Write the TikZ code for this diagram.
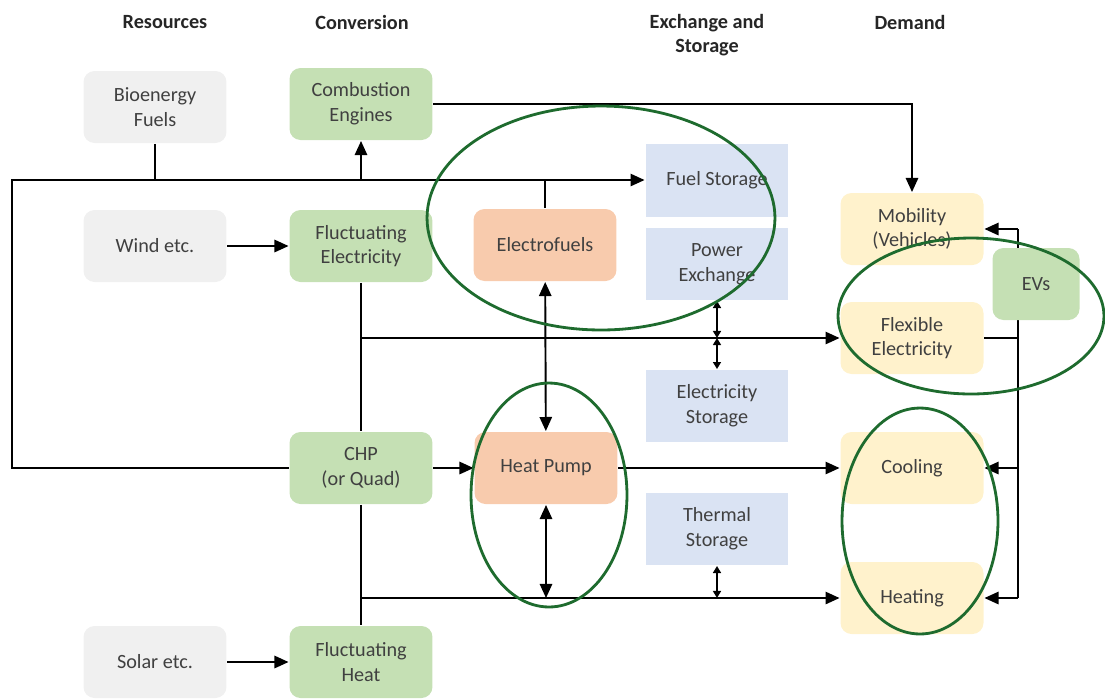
\documentclass[tikz,border=0pt]{standalone}
\usepackage{fontspec}
\setmainfont{Carlito}
\usepackage{tikz}
\usetikzlibrary{arrows.meta, positioning}
\usepackage{xcolor}

\definecolor{resgray}{HTML}{F0F0F0}
\definecolor{convgreen}{HTML}{C5E0B4}
\definecolor{fuelorange}{HTML}{F8CBAD}
\definecolor{storblue}{HTML}{DAE3F3}
\definecolor{demyellow}{HTML}{FFF2CC}
\definecolor{ringgreen}{HTML}{1E6B2E}
\definecolor{txtgray}{HTML}{404040}

\tikzset{
	box/.style={inner sep = 3pt, minimum width=2.86cm, minimum height=1.44cm, align=center, text=txtgray, rounded corners=0.22cm, font=\fontsize{11.5}{14}\selectfont},
	resbox/.style={box, fill=resgray},
	convbox/.style={box, fill=convgreen},
	fuelbox/.style={box, fill=fuelorange},
	storbox/.style={box, fill=storblue, sharp corners},
	demandbox/.style={box, fill=demyellow},
	head/.style={align=center, font=\fontsize{11.5}{14}\selectfont\bfseries, text=black!85},
	ring/.style={draw=ringgreen, line width=1.6pt},
	>={Triangle[length=8pt,width=7pt]},
	small/.style={>={Triangle[length=4pt,width=4.5pt]}}
}

\begin{document}
\begin{tikzpicture}[x=0.02cm, y=-0.02cm, line width=1.1pt]
		\useasboundingbox (0,0) rectangle (1105,698);
		\draw (165,22) node[head] (hres) {Resources}
		(362,22) node[head] (hconv) {Conversion}
		(707,35) node[head] (hexch) {Exchange and\\Storage}
		(910,22) node[head] (hdem) {Demand}
		(155,107) node[resbox] (bio) {Bioenergy\\Fuels}
		(155,246) node[resbox] (wind) {Wind etc.}
		(155,662) node[resbox] (solar) {Solar etc.}
		(361,104) node[convbox] (comb) {Combustion\\Engines}
		(361,246) node[convbox] (fel) {Fluctuating\\Electricity}
		(361,468) node[convbox] (chp) {CHP\\(or Quad)}
		(361,662) node[convbox] (fheat) {Fluctuating\\Heat}
		(545,245) node[fuelbox] (elf) {Electrofuels}
		(546,468) node[fuelbox] (hp) {Heat Pump}
		(717,180) node[storbox, minimum height=1.46cm] (fuel) {Fuel Storage}
		(717,264) node[storbox] (pex) {Power\\Exchange}
		(717,406) node[storbox] (est) {Electricity\\Storage}
		(717,529) node[storbox] (tst) {Thermal\\Storage}
		(912,229) node[demandbox] (mob) {Mobility\\(Vehicles)}
		(912,338) node[demandbox] (flex) {Flexible\\Electricity}
		(912,468) node[demandbox] (cool) {Cooling}
		(912,598) node[demandbox] (heat) {Heating};
		\coordinate (fl) at (12,180);
		\coordinate (bus) at (1018,338);
		
		\draw[->] (chp.west) -| (fl) -- (fuel.west);
		\draw (bio) -- (bio |- fl);
		\draw[->] (comb.south |- fl) -- (comb);
		\draw (elf) -- (elf |- fl);
		\draw[->] (comb) -| (mob);
		\draw[->] (wind) -- (fel);
		\draw (fel) -- (chp);
		\draw[->] (fel.south |- flex) -- (flex);
		\draw (chp) -- (fheat);
		\draw[->] (solar) -- (fheat);
		\draw[->] (chp.south |- heat) -- (heat);
		\draw[->] (chp) -- (hp);
		\draw[->] (hp) -- (cool);
		\draw[<->] (elf) -- (hp);
		\draw[<->] (hp) -- (hp |- heat);
		\draw[<->, small] (pex) -- (pex |- flex);
		\draw[<->, small] (pex |- flex) -- (est);
		\draw[<->, small] (tst) -- (tst |- heat);
		\draw (flex) -- (bus);
		\draw (bus |- mob) -- (bus |- heat);
		\draw[->] (bus |- mob) -- (mob);
		\draw[->] (bus |- cool) -- (cool);
		\draw[->] (bus |- heat) -- (heat);
		\draw (1036,284) node[convbox, minimum width=1.74cm] (ev) {EVs};
		
		\draw[ring] (601,218) ellipse [x radius=3.48cm, y radius=2.24cm];
		\draw[ring] (549,495) ellipse [x radius=1.56cm, y radius=2.24cm];
		\draw[ring] (971,316) ellipse [x radius=2.66cm, y radius=1.56cm];
		\draw[ring] (920,521) ellipse [x radius=1.56cm, y radius=2.26cm];
	\end{tikzpicture}
\end{document}
